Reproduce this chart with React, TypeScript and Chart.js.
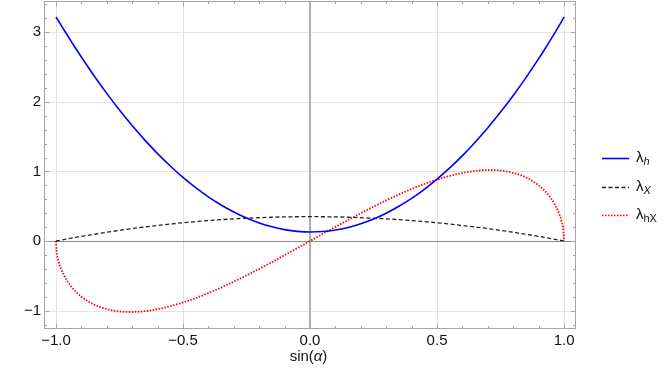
import React, { useEffect, useRef } from "react";
import { Chart, registerables } from "chart.js";

Chart.register(...registerables);

const FONT = "'Liberation Sans', Arial, Helvetica, sans-serif";

// sin(alpha) sample positions
const SIN_ALPHA = [
  -1, -0.998, -0.99, -0.98, -0.96, -0.94, -0.92, -0.9, -0.85, -0.8, -0.75, -0.7, -0.65,
  -0.6, -0.55, -0.5, -0.45, -0.4, -0.35, -0.3, -0.25, -0.2, -0.15, -0.1, -0.05, 0,
  0.05, 0.1, 0.15, 0.2, 0.25, 0.3, 0.35, 0.4, 0.45, 0.5, 0.55, 0.6, 0.65, 0.7, 0.75,
  0.8, 0.85, 0.9, 0.92, 0.94, 0.96, 0.98, 0.99, 0.998, 1,
];

const LAMBDA_H = [
  3.22, 3.21, 3.163, 3.104, 2.986, 2.87, 2.756, 2.645, 2.376, 2.122, 1.883, 1.659, 1.45,
  1.257, 1.079, 0.916, 0.768, 0.635, 0.518, 0.417, 0.33, 0.26, 0.204, 0.164, 0.139, 0.13,
  0.136, 0.158, 0.195, 0.248, 0.316, 0.4, 0.499, 0.613, 0.744, 0.89, 1.051, 1.228, 1.421,
  1.629, 1.853, 2.093, 2.349, 2.621, 2.735, 2.851, 2.97, 3.092, 3.154, 3.206, 3.22,
];

const LAMBDA_X = [
  0, 0.001, 0.007, 0.014, 0.027, 0.041, 0.054, 0.067, 0.097, 0.126, 0.153, 0.179, 0.202,
  0.224, 0.244, 0.263, 0.279, 0.294, 0.307, 0.319, 0.328, 0.336, 0.342, 0.347, 0.349, 0.35,
  0.349, 0.347, 0.342, 0.336, 0.328, 0.319, 0.307, 0.294, 0.279, 0.263, 0.244, 0.224, 0.202,
  0.179, 0.153, 0.126, 0.097, 0.067, 0.054, 0.041, 0.027, 0.014, 0.007, 0.001, 0,
];

const LAMBDA_HX = [
  0, -0.129, -0.285, -0.398, -0.548, -0.654, -0.736, -0.8, -0.914, -0.979, -1.012, -1.02,
  -1.008, -0.979, -0.937, -0.883, -0.82, -0.748, -0.669, -0.584, -0.494, -0.4, -0.303,
  -0.203, -0.102, 0, 0.102, 0.203, 0.303, 0.4, 0.494, 0.584, 0.669, 0.748, 0.82, 0.883,
  0.937, 0.979, 1.008, 1.02, 1.012, 0.979, 0.914, 0.8, 0.736, 0.654, 0.548, 0.398, 0.285,
  0.129, 0,
];

const X_TICKS = [-1, -0.5, 0, 0.5, 1];
const Y_TICKS = [-1, 0, 1, 2, 3];
const X_MINOR_STEP = 0.1;
const Y_MINOR_STEP = 0.2;

const fmtX = (v: number) => (v < 0 ? "\u2212" : "") + Math.abs(v).toFixed(1);
const fmtY = (v: number) => (v < 0 ? "\u2212" : "") + Math.abs(v).toFixed(0);

const pts = (ys: number[]) => SIN_ALPHA.map((x, i) => ({ x, y: ys[i] }));

const mmaPlugin = {
  id: "mmaFrame",
  beforeDatasetsDraw(chart: any) {
    const { ctx, chartArea: a, scales } = chart;
    const xs = scales.x;
    const ys = scales.y;
    ctx.save();
    ctx.lineWidth = 1;
    ctx.strokeStyle = "#e3e3e3";
    X_TICKS.forEach((v) => {
      const p = Math.round(xs.getPixelForValue(v)) + 0.5;
      ctx.beginPath();
      ctx.moveTo(p, a.top);
      ctx.lineTo(p, a.bottom);
      ctx.stroke();
    });
    Y_TICKS.forEach((v) => {
      const p = Math.round(ys.getPixelForValue(v)) + 0.5;
      ctx.beginPath();
      ctx.moveTo(a.left, p);
      ctx.lineTo(a.right, p);
      ctx.stroke();
    });
    // axes through origin
    ctx.strokeStyle = "#b0b0b0";
    ctx.lineWidth = 2;
    const x0 = Math.round(xs.getPixelForValue(0));
    ctx.beginPath();
    ctx.moveTo(x0, a.top);
    ctx.lineTo(x0, a.bottom);
    ctx.stroke();
    ctx.strokeStyle = "#8a8a8a";
    ctx.lineWidth = 1;
    const y0 = Math.round(ys.getPixelForValue(0)) + 0.5;
    ctx.beginPath();
    ctx.moveTo(a.left, y0);
    ctx.lineTo(a.right, y0);
    ctx.stroke();
    ctx.restore();
  },
  afterDatasetsDraw(chart: any) {
    const { ctx, chartArea: a, scales } = chart;
    const xs = scales.x;
    const ys = scales.y;
    ctx.save();
    ctx.strokeStyle = "#a6a6a6";
    ctx.lineWidth = 1;
    const L = Math.round(a.left) + 0.5;
    const R = Math.round(a.right) + 0.5;
    const T = Math.round(a.top) + 0.5;
    const B = Math.round(a.bottom) + 0.5;
    ctx.strokeRect(L, T, R - L, B - T);
    for (let k = -10; k <= 10; k++) {
      const v = k * X_MINOR_STEP;
      const major = k % 5 === 0;
      const len = major ? 5 : 2.5;
      const p = Math.round(xs.getPixelForValue(v)) + 0.5;
      ctx.beginPath();
      ctx.moveTo(p, B);
      ctx.lineTo(p, B - len);
      ctx.moveTo(p, T);
      ctx.lineTo(p, T + len);
      ctx.stroke();
    }
    for (let k = -6; k <= 17; k++) {
      const v = k * Y_MINOR_STEP;
      if (v < ys.min || v > ys.max) continue;
      const major = k % 5 === 0;
      const len = major ? 5 : 2.5;
      const p = Math.round(ys.getPixelForValue(v)) + 0.5;
      ctx.beginPath();
      ctx.moveTo(L, p);
      ctx.lineTo(L + len, p);
      ctx.moveTo(R, p);
      ctx.lineTo(R - len, p);
      ctx.stroke();
    }
    ctx.restore();
  },
  afterDraw(chart: any) {
    const { ctx, chartArea: a } = chart;
    ctx.save();
    ctx.fillStyle = "#111";
    ctx.textBaseline = "alphabetic";
    const cx = (a.left + a.right) / 2 - 1;
    const base = 361;
    const parts: [string, string][] = [
      ["sin(", `15px ${FONT}`],
      ["\u03b1", `italic 15px ${FONT}`],
      [")", `15px ${FONT}`],
    ];
    let total = 0;
    parts.forEach(([t, f]) => {
      ctx.font = f;
      total += ctx.measureText(t).width;
    });
    let x = cx - total / 2;
    ctx.textAlign = "left";
    parts.forEach(([t, f]) => {
      ctx.font = f;
      ctx.fillText(t, x, base);
      x += ctx.measureText(t).width;
    });

    const items = [
      { color: "#0000ff", dash: [] as number[], width: 1.6, sub: "h", subItalic: true, y: 158 },
      { color: "#222222", dash: [4, 2.5], width: 1.3, sub: "X", subItalic: true, y: 187 },
      { color: "#ff0000", dash: [1.5, 1.5], width: 1.6, sub: "hX", subItalic: false, y: 215 },
    ];
    items.forEach((it) => {
      ctx.strokeStyle = it.color;
      ctx.lineWidth = it.width;
      ctx.setLineDash(it.dash);
      ctx.beginPath();
      ctx.moveTo(602, it.y + 0.5);
      ctx.lineTo(629, it.y + 0.5);
      ctx.stroke();
      ctx.setLineDash([]);
      ctx.fillStyle = "#111";
      ctx.font = `15px ${FONT}`;
      ctx.fillText("\u03bb", 636, it.y + 4);
      const w = ctx.measureText("\u03bb").width;
      ctx.font = `${it.subItalic ? "italic " : ""}11px ${FONT}`;
      ctx.fillText(it.sub, 636 + w, it.y + 7);
    });
    ctx.restore();
  },
};

export default function App() {
  const ref = useRef<HTMLCanvasElement | null>(null);

  useEffect(() => {
    if (!ref.current) return;
    const chart = new Chart(ref.current, {
      type: "line",
      data: {
        datasets: [
          {
            label: "λh",
            data: pts(LAMBDA_H),
            borderColor: "#0000ff",
            borderWidth: 1.6,
            pointRadius: 0,
            cubicInterpolationMode: "monotone",
            fill: false,
          },
          {
            label: "λX",
            data: pts(LAMBDA_X),
            borderColor: "#222222",
            borderWidth: 1.3,
            borderDash: [4, 2.5],
            pointRadius: 0,
            cubicInterpolationMode: "monotone",
            fill: false,
          },
          {
            label: "λhX",
            data: pts(LAMBDA_HX),
            borderColor: "#ff0000",
            borderWidth: 1.8,
            borderDash: [1.5, 1.5],
            pointRadius: 0,
            cubicInterpolationMode: "monotone",
            fill: false,
          },
        ],
      },
      options: {
        animation: false,
        responsive: false,
        devicePixelRatio: 1,
        layout: { padding: { left: 0, right: 89, top: 1, bottom: 0 } },
        plugins: { legend: { display: false }, tooltip: { enabled: false } },
        scales: {
          x: {
            type: "linear",
            min: -1.047,
            max: 1.043,
            grid: { display: false, drawTicks: false },
            border: { display: false },
            afterBuildTicks: (s: any) => {
              s.ticks = X_TICKS.map((v) => ({ value: v }));
            },
            afterFit: (s: any) => {
              s.height = 43;
              s.paddingLeft = 0;
              s.paddingRight = 0;
            },
            ticks: {
              padding: 4,
              maxRotation: 0,
              autoSkip: false,
              color: "#111",
              font: { family: FONT, size: 15 },
              callback: (v: any) => fmtX(Number(v)),
            },
          },
          y: {
            type: "linear",
            min: -1.25,
            max: 3.45,
            grid: { display: false, drawTicks: false },
            border: { display: false },
            afterBuildTicks: (s: any) => {
              s.ticks = Y_TICKS.map((v) => ({ value: v }));
            },
            afterFit: (s: any) => {
              s.width = 44;
              s.paddingTop = 0;
              s.paddingBottom = 0;
            },
            ticks: {
              padding: 3,
              autoSkip: false,
              color: "#111",
              font: { family: FONT, size: 15 },
              callback: (v: any) => fmtY(Number(v)),
            },
          },
        },
      },
      plugins: [mmaPlugin],
    } as any);
    return () => chart.destroy();
  }, []);

  return (
    <div style={{ position: "absolute", left: 0, top: 0, width: 664, height: 371, background: "#fff" }}>
      <canvas ref={ref} width={664} height={371} style={{ width: 664, height: 371, display: "block" }} />
    </div>
  );
}
